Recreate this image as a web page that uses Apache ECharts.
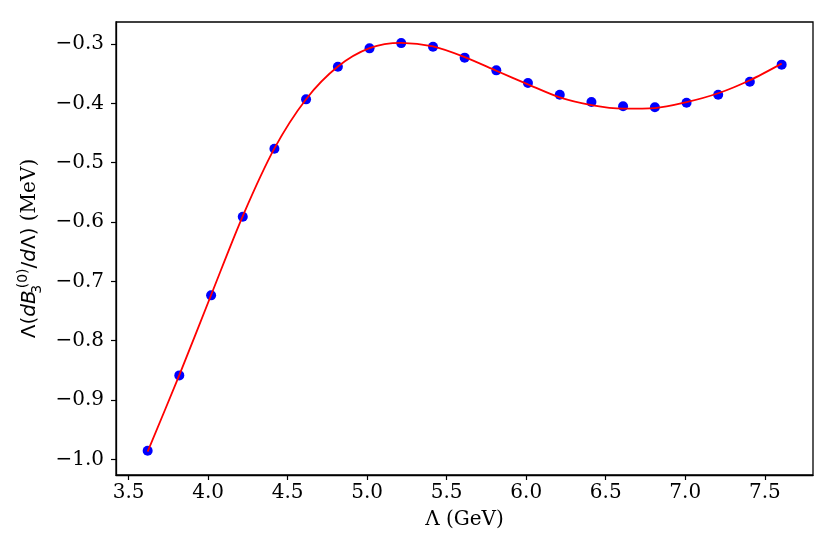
<!DOCTYPE html>
<html>
<head>
<meta charset="utf-8">
<script src="https://cdn.jsdelivr.net/npm/echarts@6/dist/echarts.min.js"></script>
<style>html,body{margin:0;padding:0;background:#fff}#c{width:836px;height:555px}</style>
</head>
<body>
<div id="c"></div>
<script>
// Λ values (GeV)
const lambdaX = [3.620, 3.819, 4.019, 4.218, 4.417, 4.616, 4.816, 5.015, 5.214, 5.414, 5.613, 5.812, 6.011, 6.211, 6.410, 6.609, 6.809, 7.008, 7.207, 7.406, 7.606];
// computed points (blue dots)
const pointY = [-0.9855, -0.8585, -0.7236, -0.591, -0.4764, -0.3933, -0.3382, -0.3073, -0.2985, -0.3045, -0.323, -0.3444, -0.3657, -0.3854, -0.3978, -0.405, -0.4067, -0.399, -0.3854, -0.3635, -0.3348];
// fitted curve (red line)
const curveY = [-0.987, -0.858, -0.723, -0.590, -0.476, -0.393, -0.338, -0.307, -0.298, -0.304, -0.322, -0.345, -0.368, -0.390, -0.403, -0.409, -0.408, -0.398, -0.383, -0.361, -0.333];
const xTicks = [3.5, 4.0, 4.5, 5.0, 5.5, 6.0, 6.5, 7.0, 7.5];
const yTicks = [-1.0, -0.9, -0.8, -0.7, -0.6, -0.5, -0.4, -0.3];

const serif = "'DejaVu Serif', serif";
const sans = "'DejaVu Sans', sans-serif";
const fs = 20;
const chart = echarts.init(document.getElementById('c'), null, {renderer: 'canvas'});
const fmt = v => (v < 0 ? '\u2212' : '') + Math.abs(v).toFixed(1);
chart.setOption({
  animation: false,
  backgroundColor: '#fff',
  grid: {left: 116, right: 23, top: 22, bottom: 80, show: true, borderColor: '#000', borderWidth: 1.3, backgroundColor: 'transparent'},
  xAxis: {
    type: 'value', min: 3.421, max: 7.803,
    axisLine: {show: true, onZero: false, lineStyle: {color: '#000', width: 1.3}},
    axisTick: {show: true, customValues: xTicks, length: 5, lineStyle: {color: '#000', width: 1.2}},
    axisLabel: {customValues: xTicks, formatter: fmt, color: '#000', fontFamily: serif, fontSize: fs, margin: 8},
    splitLine: {show: false},
    name: 'Λ (GeV)', nameLocation: 'middle', nameGap: 35,
    nameTextStyle: {color: '#000', fontFamily: serif, fontSize: fs}
  },
  yAxis: {
    type: 'value', min: -1.0264, max: -0.2629,
    axisLine: {show: true, onZero: false, lineStyle: {color: '#000', width: 1.3}},
    axisTick: {show: true, customValues: yTicks, length: 5, lineStyle: {color: '#000', width: 1.2}},
    axisLabel: {customValues: yTicks, formatter: fmt, color: '#000', fontFamily: serif, fontSize: fs, margin: 12},
    splitLine: {show: false},
    name: '{m|Λ(}{i|dB}{sub|3}{sup|(0)}{m|/}{i|d}{m|Λ)}{s| (MeV)}',
    nameLocation: 'middle', nameGap: 70, nameRotate: 90,
    nameTextStyle: {
      color: '#000', fontFamily: serif, fontSize: fs,
      rich: {
        m: {fontFamily: sans, fontSize: fs, color: '#000', lineHeight: 32, verticalAlign: 'middle'},
        i: {fontFamily: sans, fontStyle: 'italic', fontSize: fs, color: '#000', lineHeight: 32, verticalAlign: 'middle'},
        sub: {fontFamily: sans, fontSize: 14, color: '#000', padding: [14, 0, 0, 1], width: 0, lineHeight: 32, verticalAlign: 'middle'},
        sup: {fontFamily: sans, fontSize: 14, color: '#000', padding: [0, 0, 14, 1], lineHeight: 32, verticalAlign: 'middle'},
        s: {fontFamily: serif, fontSize: fs, color: '#000', lineHeight: 32, verticalAlign: 'middle'}
      }
    }
  },
  series: [
    {
      type: 'scatter', data: lambdaX.map((x, i) => [x, pointY[i]]),
      symbol: 'circle', symbolSize: 10, itemStyle: {color: '#0000ff', opacity: 1}, z: 2
    },
    {
      type: 'line', data: lambdaX.map((x, i) => [x, curveY[i]]),
      smooth: 0.3, showSymbol: false, symbol: 'none',
      lineStyle: {color: '#ff0000', width: 1.8}, z: 3
    }
  ]
});
</script>
</body>
</html>
